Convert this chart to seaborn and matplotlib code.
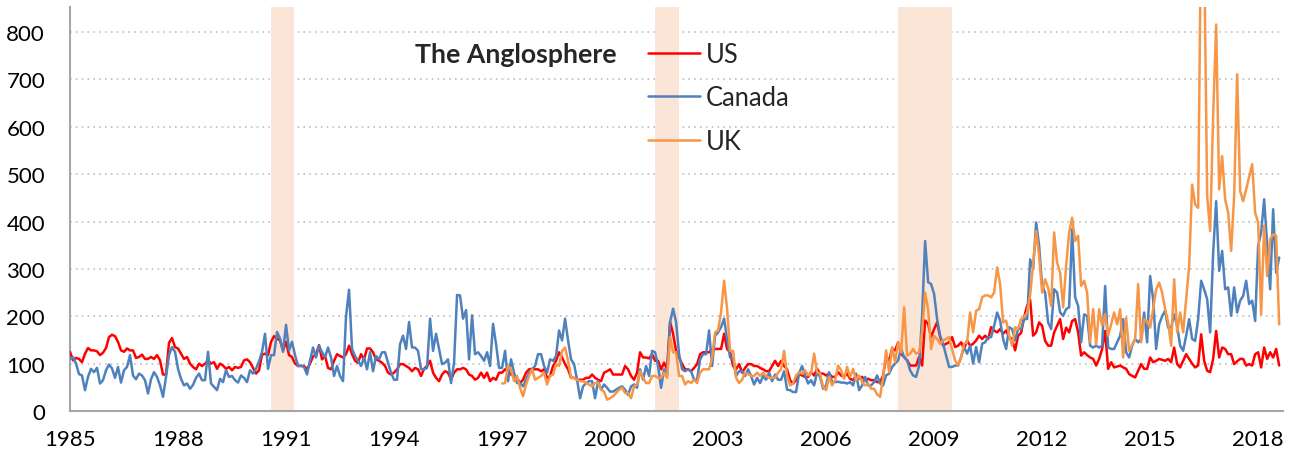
import numpy as np
import pandas as pd
import matplotlib
matplotlib.use('Agg')
import matplotlib.pyplot as plt
from matplotlib.lines import Line2D
import seaborn as sns

# monthly values, Jan 1985 - Aug 2018 (UK from Jan 1997)
us = [
    125, 107, 112, 110, 103, 121, 133, 128, 128, 126, 118, 123,  # 1985
    133, 156, 161, 158, 146, 128, 125, 132, 128, 128, 112, 114,  # 1986
    119, 110, 110, 114, 110, 118, 107, 77, 77, 144, 154, 135,    # 1987
    132, 121, 110, 114, 100, 93, 88, 100, 95, 100, 107, 100,     # 1988
    103, 89, 100, 96, 89, 93, 86, 93, 91, 93, 107, 109,          # 1989
    103, 91, 79, 86, 119, 121, 118, 146, 158, 153, 149, 128,     # 1990
    146, 118, 114, 100, 95, 95, 95, 88, 100, 115, 120, 139,      # 1991
    109, 116, 91, 88, 106, 120, 116, 113, 120, 138, 120, 106,    # 1992
    102, 120, 109, 132, 132, 124, 109, 106, 102, 95, 81, 77,     # 1993
    81, 88, 99, 99, 95, 91, 84, 91, 88, 74, 89, 95,              # 1994
    106, 81, 70, 63, 77, 84, 81, 66, 81, 88, 88, 91,             # 1995
    88, 77, 74, 66, 70, 81, 70, 81, 63, 70, 66, 81,              # 1996
    81, 88, 84, 77, 74, 70, 59, 66, 81, 88, 89, 88,              # 1997
    88, 84, 88, 70, 74, 95, 106, 124, 113, 99, 88, 70,           # 1998
    70, 66, 66, 66, 70, 70, 77, 70, 66, 63, 81, 84,              # 1999
    88, 77, 77, 77, 77, 95, 88, 74, 66, 81, 124, 113,            # 2000
    113, 111, 120, 106, 106, 88, 102, 88, 188, 163, 127, 113,    # 2001
    99, 88, 88, 84, 91, 99, 120, 124, 124, 124, 131, 131,        # 2002
    131, 131, 163, 131, 124, 95, 88, 99, 81, 91, 99, 99,         # 2003
    95, 95, 91, 88, 84, 84, 95, 106, 95, 106, 95, 88,            # 2004
    65, 58, 65, 79, 75, 72, 72, 82, 75, 89, 79, 79,              # 2005
    75, 79, 72, 72, 82, 75, 72, 79, 68, 65, 75, 68,              # 2006
    72, 65, 68, 65, 65, 61, 61, 75, 114, 107, 131, 128,          # 2007
    145, 121, 114, 107, 96, 96, 96, 114, 96, 191, 184, 156,      # 2008
    173, 187, 156, 138, 142, 145, 156, 135, 138, 145, 131, 149,  # 2009
    138, 142, 149, 159, 152, 159, 152, 177, 170, 166, 173, 163,  # 2010
    170, 156, 152, 128, 159, 165, 198, 222, 235, 159, 166, 187,  # 2011
    180, 148, 138, 138, 166, 180, 194, 152, 176, 166, 190, 194,  # 2012
    166, 117, 124, 118, 113, 110, 96, 110, 131, 169, 89, 103,    # 2013
    92, 94, 96, 92, 89, 78, 74, 71, 85, 99, 89, 89,              # 2014
    113, 103, 106, 110, 108, 106, 110, 103, 134, 99, 92, 106,    # 2015
    120, 110, 100, 92, 96, 162, 106, 85, 82, 110, 169, 113,      # 2016
    134, 131, 120, 120, 99, 105, 110, 110, 96, 99, 96, 120,      # 2017
    124, 92, 134, 110, 124, 113, 131, 96,                        # 2018
]

canada = [
    110, 114, 100, 78, 75, 44, 72, 89, 82, 91, 58, 65,           # 1985
    86, 98, 90, 70, 93, 60, 86, 93, 118, 75, 67, 79,             # 1986
    75, 65, 37, 67, 82, 72, 54, 30, 72, 118, 135, 125,           # 1987
    89, 68, 54, 58, 47, 55, 70, 79, 65, 65, 125, 58,             # 1988
    51, 44, 68, 61, 86, 72, 74, 65, 60, 75, 70, 61,              # 1989
    86, 79, 89, 105, 125, 163, 89, 118, 118, 167, 153, 125,      # 1990
    182, 128, 146, 118, 95, 96, 93, 77, 107, 134, 113, 138,      # 1991
    124, 113, 134, 113, 74, 95, 74, 63, 200, 256, 131, 116,      # 1992
    106, 95, 113, 88, 124, 84, 116, 109, 124, 124, 102, 81,      # 1993
    66, 66, 141, 159, 131, 188, 134, 134, 127, 88, 88, 91,       # 1994
    195, 127, 163, 131, 99, 102, 109, 59, 102, 245, 244, 195,    # 1995
    213, 109, 202, 120, 124, 116, 106, 124, 95, 184, 141, 91,    # 1996
    91, 127, 63, 109, 81, 59, 59, 52, 66, 81, 88, 95,            # 1997
    120, 120, 95, 81, 109, 106, 116, 170, 149, 195, 149, 109,    # 1998
    99, 66, 27, 52, 59, 63, 63, 27, 63, 45, 56, 49,              # 1999
    41, 41, 45, 49, 52, 45, 34, 52, 56, 49, 88, 66,              # 2000
    95, 74, 127, 124, 95, 49, 88, 74, 188, 216, 188, 120,        # 2001
    88, 84, 88, 84, 66, 66, 109, 120, 120, 170, 95, 159,         # 2002
    166, 177, 195, 152, 113, 109, 74, 84, 84, 74, 88, 74,        # 2003
    56, 70, 59, 74, 66, 81, 63, 77, 66, 66, 84, 45,              # 2004
    44, 40, 40, 80, 95, 75, 58, 65, 54, 82, 72, 47,              # 2005
    54, 82, 61, 61, 62, 60, 60, 58, 61, 54, 79, 44,              # 2006
    54, 72, 54, 54, 61, 75, 58, 54, 75, 79, 93, 100,             # 2007
    107, 131, 114, 107, 86, 75, 72, 96, 201, 359, 272, 268,      # 2008
    247, 194, 159, 142, 117, 93, 93, 96, 96, 114, 135, 121,      # 2009
    138, 100, 135, 103, 142, 145, 156, 156, 180, 208, 191, 152,  # 2010
    131, 177, 173, 149, 173, 173, 194, 194, 320, 299, 398, 349,  # 2011
    264, 250, 187, 173, 257, 250, 208, 201, 215, 219, 384, 240,  # 2012
    222, 145, 204, 201, 138, 134, 138, 134, 138, 264, 134, 131,  # 2013
    131, 145, 159, 194, 124, 113, 138, 152, 145, 152, 208, 145,  # 2014
    285, 236, 131, 183, 200, 212, 176, 176, 204, 180, 138, 127,  # 2015
    159, 194, 152, 148, 194, 275, 257, 236, 166, 334, 443, 296,  # 2016
    338, 257, 261, 201, 261, 208, 233, 243, 275, 226, 233, 190,  # 2017
    349, 377, 447, 352, 257, 426, 292, 324,                      # 2018
]

uk = [
    58, 59, 95, 88, 63, 74, 49, 31, 56, 74, 88, 66,              # 1997
    70, 74, 81, 56, 74, 77, 99, 95, 127, 134, 106, 70,           # 1998
    70, 66, 63, 63, 59, 56, 52, 59, 59, 45, 41, 24,              # 1999
    27, 31, 38, 45, 49, 38, 38, 27, 52, 56, 84, 70,              # 2000
    59, 59, 74, 74, 70, 70, 81, 70, 156, 124, 124, 74,           # 2001
    74, 56, 63, 59, 66, 59, 81, 88, 88, 88, 113, 166,            # 2002
    170, 209, 275, 216, 127, 127, 70, 59, 66, 81, 78, 74,        # 2003
    74, 81, 74, 81, 74, 70, 70, 70, 81, 88, 127, 74,             # 2004
    54, 58, 75, 82, 79, 86, 75, 79, 121, 82, 79, 51,             # 2005
    44, 72, 54, 65, 96, 86, 68, 93, 72, 89, 65, 75,              # 2006
    61, 54, 58, 47, 47, 35, 30, 72, 128, 82, 135, 103,           # 2007
    145, 124, 219, 117, 121, 131, 121, 124, 166, 250, 215, 131,  # 2008
    159, 152, 142, 149, 152, 156, 130, 107, 96, 114, 142, 145,   # 2009
    208, 166, 212, 215, 240, 244, 244, 240, 250, 303, 268, 187,  # 2010
    191, 160, 138, 177, 173, 194, 198, 208, 245, 310, 380, 327,  # 2011
    250, 278, 260, 222, 377, 313, 292, 219, 306, 377, 408, 359,  # 2012
    370, 264, 275, 250, 145, 215, 141, 215, 180, 204, 159, 183,  # 2013
    208, 183, 215, 113, 197, 127, 140, 152, 268, 145, 194, 190,  # 2014
    176, 215, 257, 271, 250, 215, 187, 138, 278, 166, 208, 166,  # 2015
    236, 306, 478, 436, 429, 1050, 980, 454, 380, 623, 816, 468, # 2016
    538, 447, 419, 338, 454, 711, 464, 443, 468, 495, 521, 419,  # 2017
    398, 204, 391, 285, 363, 373, 370, 183,                      # 2018
]

series_names = ['US', 'Canada', 'UK']
start_years = [1985, 1985, 1997]
recessions = [(1990.58, 1991.22), (2001.25, 2001.92), (2008.0, 2009.5)]
year_ticks = list(range(1985, 2019, 3))
value_ticks = list(range(0, 801, 100))

palette = {'US': '#FF0000', 'Canada': '#4F81BD', 'UK': '#F79646'}

frames = []
for name, vals, start in zip(series_names, [us, canada, uk], start_years):
    frames.append(pd.DataFrame({'year': start + np.arange(len(vals)) / 12.0,
                                'value': vals, 'series': name}))
df = pd.concat(frames, ignore_index=True)

sns.set_style('white')
plt.rcParams['font.family'] = ['Lato', 'DejaVu Sans']

fig = plt.figure(figsize=(12.96, 4.56), dpi=100)
ax = fig.add_axes([70 / 1296, 1 - 412 / 456, 1213 / 1296, 404 / 456])

for a, b in recessions:
    ax.axvspan(a, b, color='#FBE5D6', zorder=1, lw=0)

sns.lineplot(data=df, x='year', y='value', hue='series', hue_order=series_names,
             palette=palette, linewidth=1.8, errorbar=None, legend=False, ax=ax, zorder=3)

ax.set_xlim(1985, 2018.69)
ax.set_ylim(0, 853)
ax.set_xticks(year_ticks)
ax.set_yticks(value_ticks)
ax.set_xlabel('')
ax.set_ylabel('')
ax.yaxis.grid(True, color='#BFBFBF', linestyle=(0, (1, 2.5)), linewidth=1.2, zorder=0)
ax.set_axisbelow(True)
for s in ['top', 'right']:
    ax.spines[s].set_visible(False)
for s in ['left', 'bottom']:
    ax.spines[s].set_color('#A6A6A6')
    ax.spines[s].set_linewidth(1.5)
ax.tick_params(axis='both', colors='#A6A6A6', labelcolor='black', labelsize=16,
               length=6, width=1.5, direction='out')
ax.tick_params(axis='x', pad=7)
ax.tick_params(axis='y', pad=12)

handles = [Line2D([], [], color=palette[n], lw=1.8) for n in series_names]
fig.legend(handles, series_names, loc='upper left', bbox_to_anchor=(648 / 1296, 1 - 43 / 456),
           frameon=False, fontsize=18.4, handlelength=2.05, handletextpad=0.2,
           labelspacing=0.72, borderpad=0, borderaxespad=0)
fig.text(617 / 1296, 1 - 55 / 456, 'The Anglosphere', ha='right', va='center',
         fontsize=19.2, fontweight='bold')

fig.savefig('out.png', dpi=100)
